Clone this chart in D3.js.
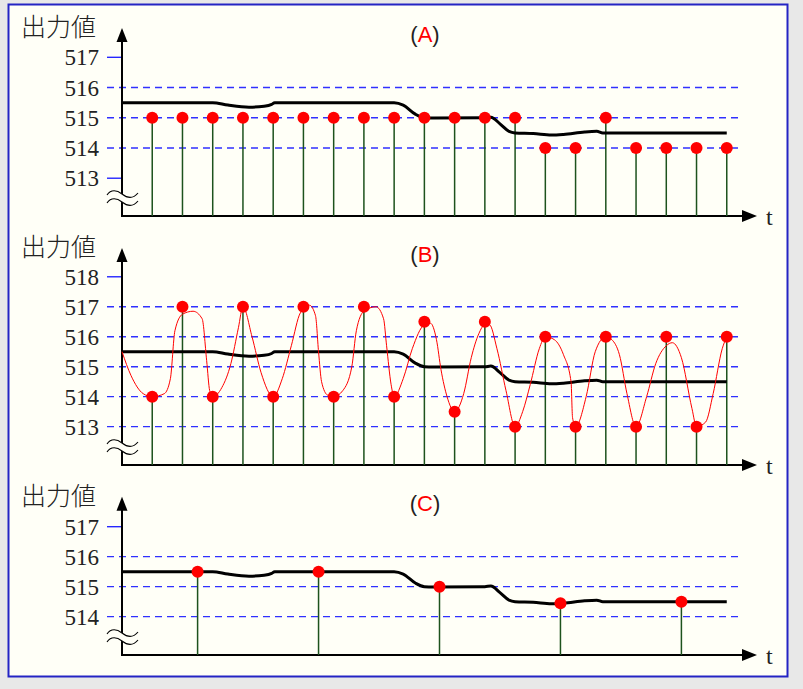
<!DOCTYPE html>
<html>
<head>
<meta charset="utf-8">
<script src="https://cdn.jsdelivr.net/npm/d3@7"></script>
<style>
  body { margin: 0; background: #e8e8e8; }
  svg { display: block; }
</style>
</head>
<body>
<svg id="chart" width="803" height="689"></svg>
<script>
// sample times (stems) for panels A and B
var sampleT = [1, 2, 3, 4, 5, 6, 7, 8, 9, 10, 11, 12, 13, 14, 15, 16, 17, 18, 19, 20];
// panel A: quantised output values
var valuesA = [515, 515, 515, 515, 515, 515, 515, 515, 515, 515, 515, 515, 515, 514, 514, 515, 514, 514, 514, 514];
// panel B: noisy output values
var valuesB = [514, 517, 514, 517, 514, 517, 514, 517, 514, 516.5, 513.5, 516.5, 513, 516, 513, 516, 513, 516, 513, 516];
// panel C: sparse samples
var sampleTC = [2.5, 6.5, 10.5, 14.5, 18.5];
var valuesC = [515.5, 515.5, 515.0, 514.45, 514.5];

// true signal (black line)
var signalT = [0, 3, 3.5, 4.2, 4.7, 4.95, 5.05, 9, 9.3, 9.7, 10, 10.3, 12, 12.2, 12.5, 12.8, 13, 13.6, 14.2, 14.6, 15.3, 15.7, 15.9, 20];
var signalV = [515.5, 515.5, 515.42, 515.35, 515.38, 515.44, 515.5, 515.5, 515.42, 515.12, 515.0, 514.99, 515.0, 515.02, 514.8, 514.55, 514.5, 514.48, 514.43, 514.45, 514.53, 514.55, 514.5, 514.5];

// red noisy trace in panel B
var noiseT = [0, 0.3, 0.7, 1, 1.4, 1.6, 1.75, 2.0, 2.35, 2.65, 2.8, 2.9, 3, 3.3, 3.6, 3.85, 4, 4.3, 4.6, 5, 5.3, 5.6, 5.9, 6.2, 6.4, 6.5, 6.6, 6.8, 7, 7.3, 7.6, 7.75, 8, 8.4, 8.65, 8.75, 8.9, 9, 9.3, 9.6, 10, 10.2, 10.4, 10.55, 10.75, 11, 11.3, 11.55, 11.8, 12, 12.15, 12.4, 12.7, 13, 13.25, 13.5, 13.8, 14, 14.3, 14.6, 14.85, 14.9, 15, 15.35, 15.65, 16, 16.2, 16.45, 16.7, 17, 17.35, 17.65, 18, 18.2, 18.5, 18.85, 19, 19.3, 19.55, 19.85, 20];
var noiseV = [515.5, 514.7, 514.1, 514, 514.1, 514.6, 516.2, 516.75, 516.85, 516.6, 515.2, 514.2, 514, 514.3, 515.1, 516.3, 517, 516.0, 514.8, 514, 514.6, 515.7, 516.8, 517.05, 516.7, 515.5, 514.5, 514.05, 514, 514.2, 515.0, 516.2, 516.85, 517, 516.6, 515.7, 514.4, 514, 514.6, 515.6, 516.4, 516.45, 515.9, 514.9, 514.0, 513.5, 514.1, 515.3, 516.1, 516.4, 516.4, 515.6, 514.2, 513, 513.5, 514.4, 515.6, 516, 515.9, 515.4, 514.5, 513.3, 513, 514, 515.5, 516, 515.9, 515.4, 514.1, 513, 514, 515.1, 515.7, 515.8, 515.3, 513.6, 513, 513.15, 514.1, 515.6, 516];

// tick labels and dashed grid values per panel
var ticksA = [517, 516, 515, 514, 513];
var gridA = [516, 515, 514];
var ticksB = [518, 517, 516, 515, 514, 513];
var gridB = [517, 516, 515, 514, 513];
var ticksC = [517, 516, 515, 514];
var gridC = [516, 515, 514];

var titles = ["A", "B", "C"];

var svg = d3.select("#chart");
var bg = "#fffff7";

svg.append("rect")
    .attr("x", 8.5).attr("y", 4.5)
    .attr("width", 779).attr("height", 672)
    .attr("fill", bg)
    .attr("stroke", "#2424c4")
    .attr("stroke-width", 2);

var x = d3.scaleLinear().domain([0, 21]).range([122, 757]);
var x0 = x(0), gridEnd = x(20.5);

function panel(opt) {
    var g = svg.append("g");
    var y = d3.scaleLinear().domain(opt.domain).range(opt.range);
    var axisY = opt.range[0], topY = opt.range[1];

    // grid (dashed) and short ticks
    g.selectAll(".grid").data(opt.grid).join("line")
        .attr("x1", 107).attr("x2", gridEnd)
        .attr("y1", d => y(d)).attr("y2", d => y(d))
        .attr("stroke", "#3030ff")
        .attr("stroke-width", 1.4)
        .attr("stroke-dasharray", "7,5");
    g.selectAll(".tick").data(opt.ticks.filter(d => opt.grid.indexOf(d) < 0)).join("line")
        .attr("x1", 107).attr("x2", x0)
        .attr("y1", d => y(d)).attr("y2", d => y(d))
        .attr("stroke", "#2626ff")
        .attr("stroke-width", 1.4);
    g.selectAll(".lbl").data(opt.ticks).join("text")
        .attr("x", 99).attr("y", d => y(d))
        .attr("dy", "0.35em")
        .attr("text-anchor", "end")
        .attr("font-family", "'Liberation Serif', serif")
        .attr("font-size", 23)
        .attr("fill", "#222")
        .text(d => d);

    // axes
    g.append("line")
        .attr("x1", x0).attr("x2", x0)
        .attr("y1", axisY).attr("y2", topY + 10)
        .attr("stroke", "#000").attr("stroke-width", 2);
    g.append("path")
        .attr("d", `M${x0},${topY} L${x0 - 5.5},${topY + 14} L${x0 + 5.5},${topY + 14} Z`)
        .attr("fill", "#000");
    g.append("line")
        .attr("x1", x0 - 1).attr("x2", 746)
        .attr("y1", axisY).attr("y2", axisY)
        .attr("stroke", "#000").attr("stroke-width", 2);
    g.append("path")
        .attr("d", `M757,${axisY} L742,${axisY - 6} L742,${axisY + 6} Z`)
        .attr("fill", "#000");
    g.append("text")
        .attr("x", 766).attr("y", axisY + 9)
        .attr("font-family", "'Liberation Serif', serif")
        .attr("font-size", 24)
        .attr("fill", "#222")
        .text("t");

    // axis break mark
    var wave = function(yc) {
        return `M107,${yc + 1} C111,${yc - 5} 117,${yc - 4} 122,${yc} C127,${yc + 4} 133,${yc + 5} 138,${yc - 1}`;
    };
    var wy = axisY - 22;
    g.append("path").attr("d", wave(wy + 4))
        .attr("fill", "none").attr("stroke", bg).attr("stroke-width", 7);
    g.append("path").attr("d", wave(wy))
        .attr("fill", "none").attr("stroke", "#000").attr("stroke-width", 1.1);
    g.append("path").attr("d", wave(wy + 8))
        .attr("fill", "none").attr("stroke", "#000").attr("stroke-width", 1.1);

    // labels
    g.append("text")
        .attr("x", 21).attr("y", topY + 8)
        .attr("font-family", "'Noto Sans CJK JP', sans-serif")
        .attr("font-weight", 300)
        .attr("font-size", 25)
        .attr("fill", "#222")
        .text("出力値");
    var title = g.append("text")
        .attr("x", 425).attr("y", topY + 14)
        .attr("text-anchor", "middle")
        .attr("font-family", "'Liberation Sans', sans-serif")
        .attr("font-size", 22);
    title.append("tspan").attr("fill", "#222").text("(");
    title.append("tspan").attr("fill", "#ff0000").text(opt.title);
    title.append("tspan").attr("fill", "#222").text(")");

    var pts = opt.t.map((t, i) => [t, opt.v[i]]);

    // stems
    g.selectAll(".stem").data(pts).join("line")
        .attr("x1", d => x(d[0])).attr("x2", d => x(d[0]))
        .attr("y1", d => y(d[1])).attr("y2", axisY)
        .attr("stroke", "#1d521d")
        .attr("stroke-width", 1.5);

    // true signal
    var sig = signalT.map((t, i) => [t, signalV[i]]);
    g.append("path")
        .datum(sig)
        .attr("fill", "none")
        .attr("stroke", "#000")
        .attr("stroke-width", 3)
        .attr("d", d3.line().x(d => x(d[0])).y(d => y(d[1])).curve(d3.curveMonotoneX));

    if (opt.noise) {
        var nz = noiseT.map((t, i) => [t, noiseV[i]]);
        g.append("path")
            .datum(nz)
            .attr("fill", "none")
            .attr("stroke", "#ff0000")
            .attr("stroke-width", 1)
            .attr("d", d3.line().x(d => x(d[0])).y(d => y(d[1])).curve(d3.curveMonotoneX));
    }

    g.selectAll(".dot").data(pts).join("circle")
        .attr("cx", d => x(d[0])).attr("cy", d => y(d[1]))
        .attr("r", 6)
        .attr("fill", "#ff0000");
}

panel({title: titles[0], domain: [511.75, 517.97], range: [216, 28], ticks: ticksA, grid: gridA, t: sampleT, v: valuesA});
panel({title: titles[1], domain: [511.72, 518.96], range: [465, 248], ticks: ticksB, grid: gridB, t: sampleT, v: valuesB, noise: true});
panel({title: titles[2], domain: [512.72, 518], range: [655, 496.7], ticks: ticksC, grid: gridC, t: sampleTC, v: valuesC});
</script>
</body>
</html>
